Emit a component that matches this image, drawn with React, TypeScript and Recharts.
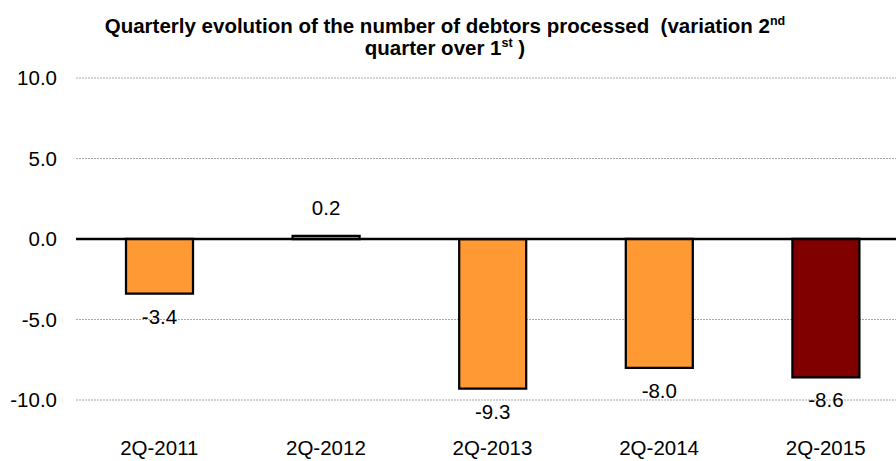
import React from "react";
import {
  BarChart,
  Bar,
  XAxis,
  YAxis,
  CartesianGrid,
  ReferenceLine,
  Cell,
  LabelList,
} from "recharts";

const categories = ["2Q-2011", "2Q-2012", "2Q-2013", "2Q-2014", "2Q-2015"];
const variation = [-3.4, 0.2, -9.3, -8.0, -8.6];
const yTicks = [-10, -5, 0, 5, 10];
const highlighted = "2Q-2015";

const data = categories.map((c, i) => ({ quarter: c, value: variation[i] }));

const FONT = "'Liberation Sans', Arial, Helvetica, sans-serif";
const ORANGE = "#FF9933";
const DARKRED = "#800000";

const ValueLabel = (props: any) => {
  const { x, y, width, height, value } = props;
  const cx = x + width / 2;
  const top = Math.min(y, y + height);
  const bottom = Math.max(y, y + height);
  const ty = value >= 0 ? top - 21 : bottom + 30;
  return (
    <text
      x={cx}
      y={ty}
      textAnchor="middle"
      fill="#000"
      fontSize={20.5}
      fontFamily={FONT}
    >
      {Number(value).toFixed(1)}
    </text>
  );
};

const supStyle: React.CSSProperties = {
  fontSize: 12.5,
  verticalAlign: "8px",
  lineHeight: 0,
};

export default function App() {
  return (
    <div
      style={{
        position: "absolute",
        left: 0,
        top: 0,
        width: 896,
        height: 461,
        overflow: "hidden",
        background: "#fff",
        fontFamily: FONT,
      }}
    >
      <div
        style={{
          position: "absolute",
          top: 15,
          left: 0,
          width: 890,
          textAlign: "center",
          fontWeight: "bold",
          fontSize: 20.5,
          lineHeight: "22px",
          color: "#000",
          fontFamily: FONT,
          zIndex: 2,
        }}
      >
        Quarterly evolution of the number of debtors processed&nbsp; (variation 2
        <sup style={supStyle}>nd</sup>
        <br />
        quarter over 1<sup style={supStyle}>st</sup> )
      </div>
      <BarChart
        width={912}
        height={461}
        data={data}
        margin={{ top: 78, right: 3, left: 0, bottom: 0 }}
        barSize={67}
      >
        <CartesianGrid
          vertical={false}
          stroke="#a6a6a6"
          strokeDasharray="2 1"
        />
        <XAxis
          dataKey="quarter"
          axisLine={false}
          tickLine={false}
          tickSize={0}
          tickMargin={40}
          height={61}
          interval={0}
          tick={{ fill: "#000", fontSize: 20.5, fontFamily: FONT }}
        />
        <YAxis
          domain={[-10, 10]}
          ticks={yTicks}
          interval={0}
          axisLine={false}
          tickLine={false}
          tickSize={0}
          tickMargin={19}
          width={76}
          tickFormatter={(v: number) => v.toFixed(1)}
          tick={{ fill: "#000", fontSize: 20.5, fontFamily: FONT }}
        />
        <Bar
          dataKey="value"
          stroke="#000"
          strokeWidth={2.25}
          isAnimationActive={false}
        >
          {data.map((d) => (
            <Cell
              key={d.quarter}
              fill={d.quarter === highlighted ? DARKRED : ORANGE}
            />
          ))}
          <LabelList dataKey="value" content={<ValueLabel />} />
        </Bar>
        <ReferenceLine y={0} stroke="#000" strokeWidth={2.5} />
      </BarChart>
    </div>
  );
}
